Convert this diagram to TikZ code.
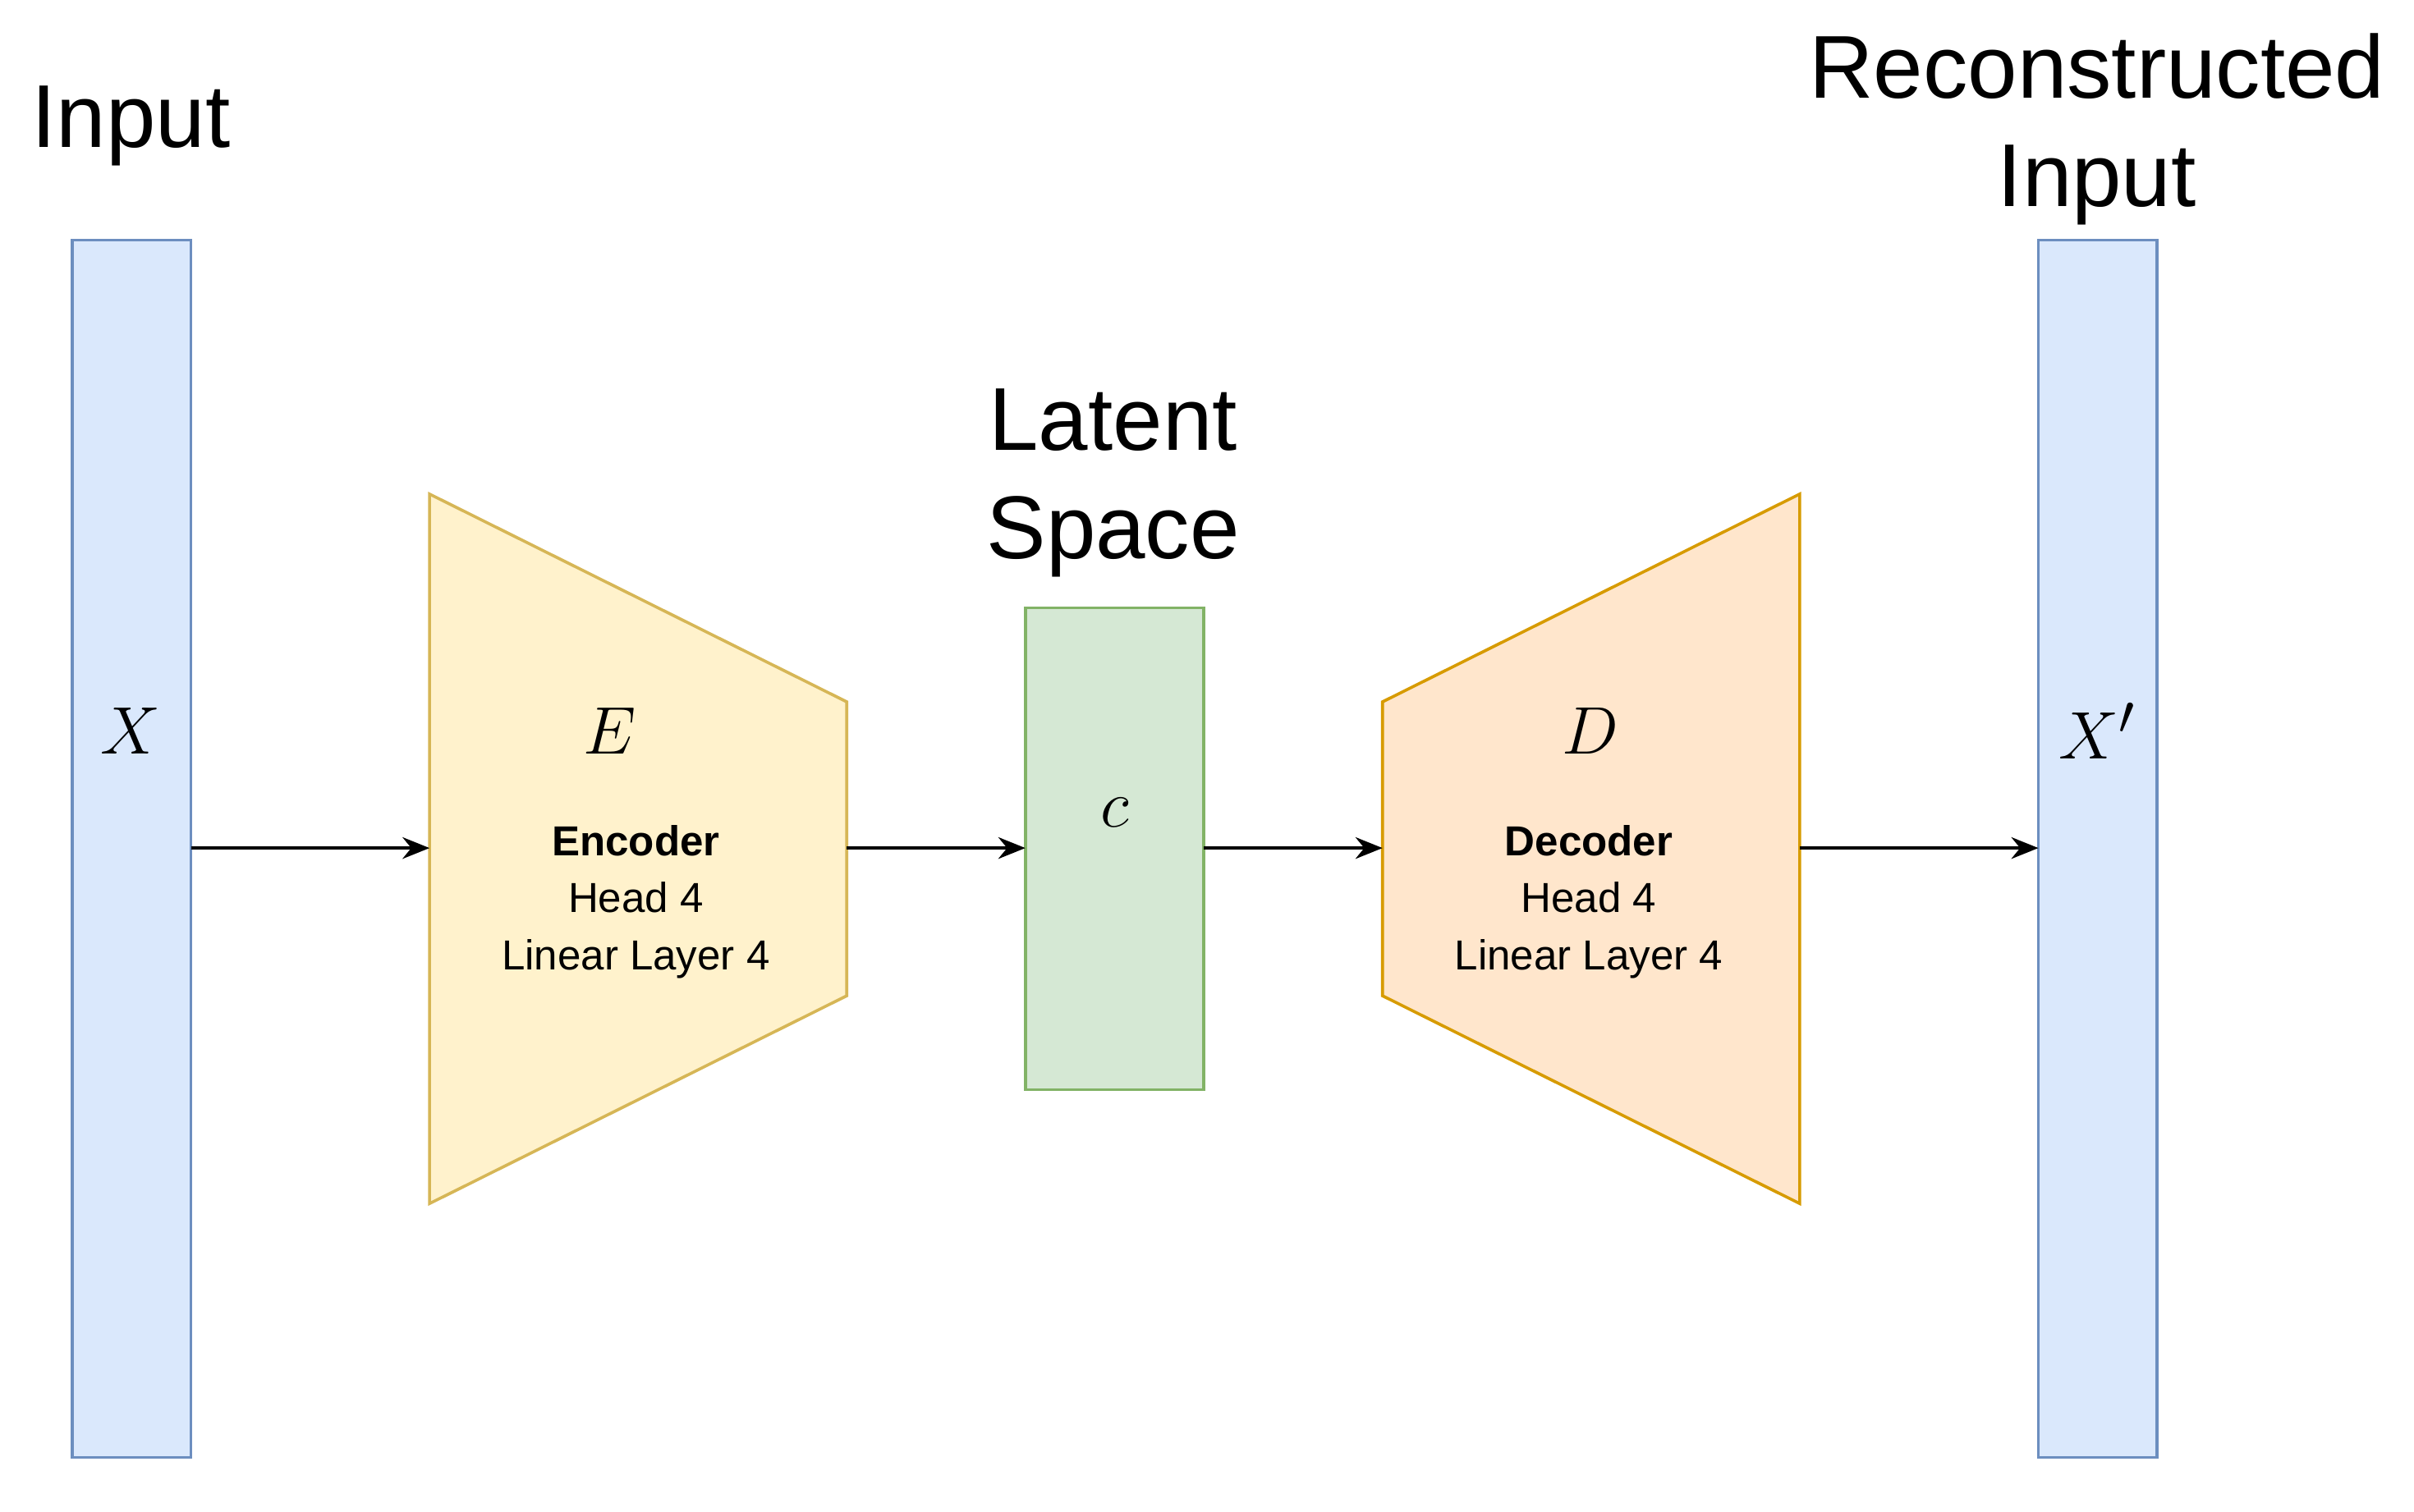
\documentclass[tikz,border=0pt]{standalone}
\usepackage{fontspec}
\setmainfont{Liberation Sans}
\usetikzlibrary{arrows.meta}
\definecolor{bf}{HTML}{DAE8FC}\definecolor{bs}{HTML}{6C8EBF}
\definecolor{yf}{HTML}{FFF2CC}\definecolor{ys}{HTML}{D6B656}
\definecolor{gf}{HTML}{D5E8D4}\definecolor{gs}{HTML}{82B366}
\definecolor{of}{HTML}{FFE6CC}\definecolor{os}{HTML}{D79B00}
\begin{document}
\begin{tikzpicture}[x=0.02cm,y=-0.02cm,
  shp/.style={line width=1.1pt},
  big/.style={font=\fontsize{33}{40}\selectfont,align=center},
  sym/.style={font=\fontsize{32}{38}\selectfont},
  small/.style={font=\fontsize{15.5}{21}\selectfont,align=center},
  arr/.style={-{Stealth[length=10pt,width=8pt]},line width=1.1pt}]
\useasboundingbox (0,0) rectangle (1568,982);
\draw[shp,fill=bf,draw=bs] (47,156) rectangle (124,947);
\coordinate (inR) at (124,551);
\draw[shp,fill=bf,draw=bs] (1324,156) rectangle (1401,947);
\coordinate (outL) at (1324,551);
\draw[shp,fill=yf,draw=ys] (279,321) -- (550,456) -- (550,647) -- (279,782) -- cycle;
\coordinate (encL) at (279,551); \coordinate (encR) at (550,551);
\draw[shp,fill=gf,draw=gs] (666,395) rectangle (782,708);
\coordinate (latL) at (666,551); \coordinate (latR) at (782,551);
\draw[shp,fill=of,draw=os] (898,456) -- (1169,321) -- (1169,782) -- (898,647) -- cycle;
\coordinate (decL) at (898,551); \coordinate (decR) at (1169,551);
\node[big] (l1) at (85,82) {Input};
\node[big] (l2) at (723,314) {Latent\\Space};
\node[big] (l3) at (1362,84) {Reconstructed\\Input};
\node[sym] (x) at (85,475) {$X$};
\node[sym] (e) at (396,475) {$E$};
\node[sym] (c) at (724,528) {$c$};
\node[sym] (d) at (1033,475) {$D$};
\node[sym] (xp) at (1362,475) {$X'$};
\node[small] (et) at (413,586) {\textbf{Encoder}\\Head 4\\Linear Layer 4};
\node[small] (dt) at (1032,586) {\textbf{Decoder}\\Head 4\\Linear Layer 4};
\draw[arr] (inR) -- (encL);
\draw[arr] (encR) -- (latL);
\draw[arr] (latR) -- (decL);
\draw[arr] (decR) -- (outL);
\end{tikzpicture}
\end{document}
